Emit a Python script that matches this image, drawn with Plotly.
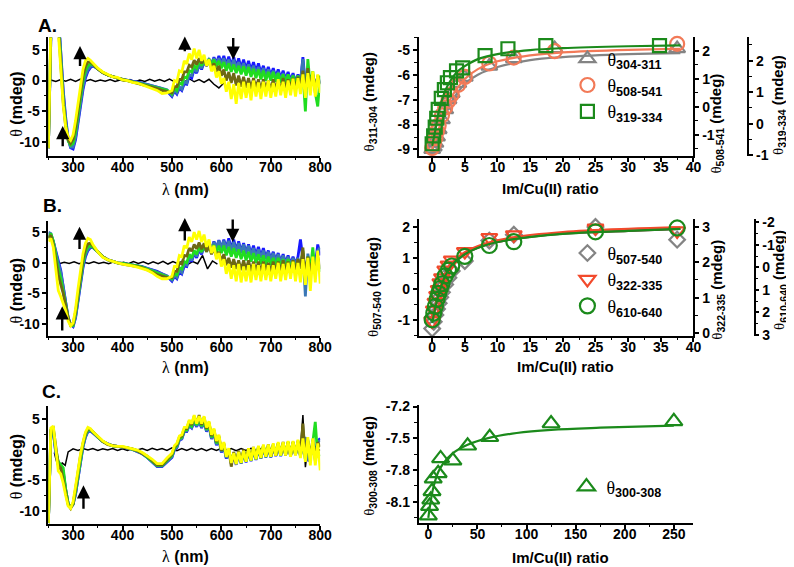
import plotly.graph_objects as go

# ---------------- DATA ----------------
WL = [250, 255, 260, 265, 270, 275, 280, 285, 290, 295,
      300, 305, 310, 315, 320, 325, 330, 335, 340,
      350, 360, 370, 380, 390, 400, 410, 420, 430, 440, 450, 460, 470, 480, 490,
      500, 505, 510, 515, 520, 525, 530, 535, 540, 545,
      550, 555, 560, 565, 570, 575, 580, 585, 590, 595,
      600, 605, 610, 615, 620, 625, 630, 635, 640, 645,
      650, 655, 660, 665, 670, 675, 680, 685, 690, 695,
      700, 705, 710, 715, 720, 725, 730, 735, 740, 745,
      750, 755, 760, 765, 770, 775, 780, 785, 790, 795,
      800]

# ---- Panel A spectra (mdeg) ----
A_BLUE = [-11, 7, 13, 14, 11, 4.5, -1.5, -6, -9.4, -10.9,
          -11.1, -9.6, -7.0, -4.0, -1.5, 0.4, 1.5, 2.1, 2.4,
          1.9, 1.3, 0.9, 0.6, 0.4, 0.2, 0.0, -0.1, -0.2, -0.4, -0.6, -0.8, -1.0, -1.3, -1.7,
          -2.6, -1.7, -2.2, -1.2, -1.6, -0.5, -0.6, 0.8, 0.4, 1.8,
          1.2, 2.6, 1.8, 3.0, 2.4, 3.5, 2.6, 3.8, 2.8, 4.0,
          2.8, 4.0, 2.6, 3.9, 2.4, 3.8, 2.2, 3.6, 2.0, 3.4,
          1.8, 3.2, 1.6, 3.0, 1.4, 2.8, 1.2, 2.4, 1.0, 2.2,
          0.8, 2.0, 0.6, 1.8, 0.4, 1.6, 0.2, 1.4, 0.0, 1.2,
          -0.2, 1.0, -0.3, 3.8, -0.8, 0.8, -0.6, 0.8, -0.8, 0.6,
          -0.4]
A_STEEL = [-11, 7, 13, 14, 11, 4, -2, -6.5, -9.6, -10.8,
           -10.8, -9.2, -6.5, -3.5, -1.0, 0.8, 1.8, 2.3, 2.5,
           1.9, 1.3, 0.9, 0.6, 0.4, 0.2, 0.0, -0.1, -0.3, -0.4, -0.6, -0.8, -1.0, -1.2, -1.5,
           -2.4, -1.5, -2.0, -1.0, -1.4, -0.2, -0.4, 1.0, 0.8, 2.0,
           1.4, 2.6, 2.0, 3.0, 2.6, 3.4, 2.8, 3.6, 2.8, 3.6,
           2.6, 3.6, 2.4, 3.4, 2.2, 3.4, 2.0, 3.0, 1.8, 2.8,
           1.6, 2.6, 1.4, 2.4, 1.2, 2.2, 1.0, 2.0, 0.8, 1.8,
           0.6, 1.6, 0.4, 1.4, 0.2, 1.2, 0.0, 1.0, -0.2, 0.9,
           -0.3, 0.8, -0.4, 3.5, -1.2, 0.6, -0.8, 0.6, -1.0, 0.4,
           -0.6]
A_GREEN = [-11, 8, 14, 14, 10, 3, -3, -7, -9.8, -10.5,
           -10.2, -8.3, -5.5, -2.5, 0.0, 1.6, 2.4, 2.7, 2.6,
           1.9, 1.3, 0.9, 0.6, 0.4, 0.2, 0.0, -0.2, -0.3, -0.5, -0.7, -0.9, -1.1, -1.3, -1.6,
           -2.2, -1.2, -1.6, -0.4, -0.6, 0.6, 0.4, 1.6, 1.4, 2.4,
           2.0, 3.2, 2.4, 3.4, 2.6, 3.5, 2.5, 3.4, 2.3, 3.2,
           2.0, 3.0, 1.6, 2.8, 1.4, 2.6, 1.2, 2.4, 1.0, 2.3,
           0.8, 2.2, 0.6, 1.9, 0.4, 1.8, 0.2, 1.6, 0.0, 1.4,
           0.0, 1.4, -0.2, 1.2, -0.4, 1.0, -0.4, 1.0, -0.6, 0.8,
           -0.6, 0.8, -0.8, 1.2, -5.0, 3.5, -1.0, 1.5, -2.0, -4.2,
           0.8]
A_OLIVE = [-11, 8, 14, 14, 9, 2, -3.5, -7.5, -9.6, -10.2,
           -9.5, -7.5, -4.5, -1.5, 0.8, 2.3, 3.0, 3.0, 2.7,
           1.9, 1.3, 0.9, 0.6, 0.4, 0.2, 0.0, -0.2, -0.4, -0.6, -0.8, -1.0, -1.3, -1.6, -1.8,
           -2.0, -1.0, -1.0, 0.2, 0.2, 1.4, 1.4, 2.5, 2.2, 3.3,
           2.6, 3.6, 2.8, 3.6, 2.4, 3.2, 2.0, 2.8, 1.4, 2.4,
           0.8, 1.8, 0.0, 1.4, -0.4, 1.2, -0.8, 0.8, -1.0, 0.6,
           -1.2, 0.4, -1.4, 0.4, -1.2, 0.2, -1.6, 0.2, -1.4, 0.0,
           -1.6, 0.2, -1.4, 0.0, -1.6, 0.4, -1.4, 0.2, -1.2, 0.4,
           -1.4, 0.6, -1.0, 1.6, -2.0, 2.0, -1.2, 1.0, -1.6, 0.8,
           -0.6]
A_YELLOW = [-11, 9, 14, 14, 8, 1, -4, -7.5, -9.2, -9.7,
            -8.8, -6.5, -3.5, -0.5, 1.8, 3.2, 3.6, 3.3, 2.9,
            2.0, 1.4, 1.0, 0.6, 0.5, 0.1, 0.0, -0.3, -0.4, -0.7, -1.0, -1.2, -1.6, -2.1, -2.0,
            -1.6, 0.0, -0.2, 1.6, 1.4, 3.2, 2.7, 4.4, 3.4, 5.2,
            3.6, 5.0, 3.2, 4.2, 2.4, 3.4, 1.5, 2.4, 0.5, 1.5,
            -0.5, 0.4, -1.8, -0.2, -3.0, -0.6, -3.8, -0.4, -3.0, -0.2,
            -2.8, -0.4, -3.2, 0.0, -2.6, -0.3, -3.0, -0.2, -2.6, 0.0,
            -2.8, -0.4, -2.6, 0.2, -2.4, -0.2, -2.8, 0.0, -2.4, 0.3,
            -2.6, 0.4, -2.2, 1.0, -2.8, 1.2, -2.4, 1.5, -2.6, 1.0,
            -2.0]
A_BLACK_WL = [255, 265, 275, 285, 295, 305, 315, 325, 335, 345, 355, 365,
              375, 385, 395, 405, 415, 425, 435, 445, 455, 465, 475, 485,
              495, 505, 515, 525, 535, 545, 555, 565, 575, 585, 595, 605]
A_BLACK = [0.1, -0.15, 0.15, -0.1, 0.2, -0.15, 0.25, -0.1, 0.15, -0.15, 0.1, -0.1,
           0.15, -0.15, 0.1, -0.1, 0.15, -0.2, 0.1, -0.15, 0.2, -0.1, 0.15, -0.15,
           0.25, -0.2, 0.15, -0.25, 0.3, -0.2, 0.15, -0.3, 0.2, -0.6, -1.2, -0.4]

# ---- Panel B spectra ----
B_BLUE = [4.5, 4.5, 3.5, 1.8, 0.3, -1.2, -3.8, -6.6, -8.9, -10.1,
          -10.4, -9.0, -6.3, -3.3, -0.8, 1.0, 2.0, 2.5, 2.5,
          1.8, 1.0, 0.5, 0.2, 0.0, -0.1, -0.2, -0.3, -0.5, -0.6, -0.9, -1.1, -1.4, -1.8, -2.2,
          -3.0, -2.2, -2.6, -1.4, -1.8, -0.5, -0.6, 0.8, 0.2, 1.6,
          0.8, 2.2, 1.4, 2.8, 1.9, 3.2, 2.2, 3.5, 2.4, 3.7,
          2.4, 3.8, 2.4, 4.0, 2.2, 3.8, 2.0, 3.5, 1.8, 3.2,
          1.6, 3.0, 1.4, 2.8, 1.2, 2.6, 1.0, 2.4, 0.8, 2.0,
          0.6, 1.8, 0.4, 1.6, 0.2, 1.4, 0.0, 1.2, -0.2, 1.0,
          -0.2, 1.0, 3.8, 0.6, -1.0, 0.8, -0.6, 0.6, -0.5, 3.0,
          1.2]
B_STEEL = [5, 4.8, 3.5, 1.5, 0, -1.5, -4, -6.8, -9.0, -10.1,
           -10.3, -8.8, -6.0, -3.0, -0.5, 1.3, 2.2, 2.6, 2.5,
           1.8, 1.0, 0.5, 0.2, 0.0, -0.1, -0.2, -0.3, -0.5, -0.7, -0.9, -1.2, -1.5, -1.8, -2.1,
           -2.8, -2.0, -2.4, -1.2, -1.6, -0.2, -0.4, 1.0, 0.4, 1.8,
           1.0, 2.4, 1.6, 2.8, 2.0, 3.2, 2.2, 3.4, 2.4, 3.6,
           2.4, 3.6, 2.2, 3.6, 2.0, 3.4, 1.8, 3.2, 1.6, 3.0,
           1.4, 2.8, 1.2, 2.4, 1.0, 2.2, 0.8, 2.0, 0.6, 1.8,
           0.4, 1.6, 0.2, 1.4, 0.0, 1.2, -0.2, 1.0, -0.4, 0.8,
           -0.4, 0.8, -0.6, 1.6, -5.5, 1.5, -0.8, 1.0, -1.0, 2.0,
           2.5]
B_GREEN = [4, 4.8, 3.5, 1.0, -1.0, -2.5, -4.5, -7.0, -9.0, -10.2,
           -10.2, -8.3, -5.5, -2.6, 0.0, 1.8, 2.6, 2.8, 2.6,
           1.8, 1.0, 0.5, 0.2, 0.0, -0.1, -0.2, -0.4, -0.5, -0.7, -1.0, -1.3, -1.6, -1.9, -2.2,
           -2.6, -1.8, -2.0, -0.8, -1.0, 0.2, 0.0, 1.4, 0.8, 2.0,
           1.4, 2.6, 1.8, 2.8, 1.8, 3.0, 1.8, 2.9, 1.6, 2.8,
           1.6, 2.8, 1.2, 2.6, 1.0, 2.4, 0.8, 2.2, 0.6, 2.0,
           0.4, 1.8, 0.2, 1.6, 0.0, 1.4, -0.2, 1.2, -0.4, 1.0,
           -0.4, 0.8, -0.6, 0.8, -0.6, 0.6, -0.8, 0.6, -0.8, 0.4,
           -0.8, 0.4, -0.8, 2.0, -2.8, 1.0, -1.2, 2.5, -1.5, 0.6,
           -1.5]
B_OLIVE = [4, 4.5, 3.0, 0.5, -2.0, -3.5, -5.0, -7.0, -9.0, -10.2,
           -10.0, -8.0, -5.0, -2.0, 0.6, 2.3, 3.1, 3.2, 2.8,
           1.8, 1.0, 0.5, 0.2, 0.0, -0.2, -0.3, -0.4, -0.6, -0.8, -1.1, -1.5, -1.9, -2.2, -2.4,
           -2.4, -1.4, -1.4, 0.0, -0.2, 1.2, 1.1, 2.4, 1.9, 3.0,
           2.3, 3.3, 2.2, 3.2, 1.8, 2.8, 1.4, 2.4, 1.0, 1.8,
           0.2, 1.4, -0.4, 0.8, -0.8, 0.6, -1.0, 0.4, -1.2, 0.4,
           -1.2, 0.4, -1.4, 0.2, -1.4, 0.2, -1.6, 0.2, -1.4, 0.0,
           -1.6, 0.2, -1.4, 0.2, -1.6, 0.4, -1.4, 0.2, -1.6, 0.4,
           -1.4, 0.6, -1.0, 2.5, -2.5, 1.0, -1.6, 0.6, -1.8, 1.0,
           -1.0]
B_YELLOW = [3.5, 4.0, 2.5, -1, -4.5, -5.5, -6.5, -7.8, -9.5, -10.3,
            -9.8, -7.5, -4.2, -1.0, 1.5, 3.2, 4.0, 3.8, 3.0,
            1.8, 0.9, 0.5, 0.2, 0.0, -0.2, -0.3, -0.5, -0.7, -0.9, -1.2, -1.6, -2.2, -2.6, -2.6,
            -2.2, -0.6, -0.6, 1.2, 1.0, 2.8, 2.4, 4.2, 3.4, 5.0,
            3.8, 5.2, 3.4, 4.6, 2.6, 3.8, 1.6, 2.8, 0.6, 1.6,
            -0.6, 0.6, -1.8, -0.2, -2.6, -0.4, -3.0, -0.2, -3.2, -0.6,
            -3.0, -0.4, -3.2, -0.2, -2.8, -0.4, -3.0, -0.2, -2.8, -0.4,
            -3.0, -0.4, -2.6, 0.0, -3.0, -0.2, -2.8, 0.0, -2.6, 0.2,
            -3.0, 0.0, -3.2, 0.6, -3.6, 0.8, -4.6, 1.0, -3.2, 2.0,
            -3.4]
B_BLACK_WL = [262, 272, 282, 292, 302, 312, 322, 332, 342, 352, 362, 372,
              382, 392, 402, 412, 422, 432, 442, 452, 462, 472, 482, 492,
              502, 512, 522, 532, 542, 552, 562, 572, 582, 592]
B_BLACK = [0.05, -0.15, 0.1, -0.1, 0.15, -0.15, 0.1, -0.1, 0.15, -0.1, 0.1, -0.15,
           0.15, -0.1, 0.1, -0.15, 0.2, -0.1, 0.15, -0.2, 0.15, -0.15, 0.25, -0.2,
           0.2, -0.15, 0.3, -0.25, 0.2, -0.15, 1.2, -1.0, 0.3, -0.2]

# ---- Panel C spectra ----
C_BLUE = [-12, 2.8, 2.8, -0.6, -2.2, -3.0, -3.8, -6.6, -8.8, -9.4,
          -8.9, -7.3, -4.8, -2.0, 0.4, 2.0, 2.9, 3.0, 2.7,
          2.0, 1.3, 0.9, 0.6, 0.5, 0.4, 0.2, 0.0, -0.3, -0.7, -1.3, -2.0, -2.8, -2.8, -2.1,
          -1.3, -0.1, 0.3, 1.5, 1.7, 2.9, 2.9, 3.9, 3.5, 4.5,
          3.7, 4.6, 3.5, 4.5, 2.9, 3.9, 1.7, 2.7, 0.7, 1.7,
          -0.5, 0.5, -1.5, -0.3, -2.3, -0.9, -2.5, -0.7, -2.3, -0.5,
          -2.1, -0.3, -1.9, -0.1, -1.7, 0.1, -1.5, 0.3, -1.3, 0.3,
          -1.3, 0.5, -1.1, 0.7, -1.1, 0.7, -0.9, 0.9, -1.1, 0.9,
          -0.9, 0.9, -1.1, 1.1, 1.6, -1.9, -1.2, 0.8, -0.8, 1.4,
          1.8]
C_STEEL = [-12, 3.0, 3.0, -0.5, -2.0, -2.8, -3.5, -6.5, -8.8, -9.5,
           -9.0, -7.2, -4.6, -1.8, 0.5, 2.1, 3.0, 3.1, 2.8,
           2.0, 1.3, 0.9, 0.6, 0.5, 0.4, 0.2, 0.0, -0.3, -0.7, -1.3, -2.0, -2.7, -2.7, -2.0,
           -1.2, 0.0, 0.4, 1.6, 1.8, 3.0, 3.0, 4.0, 3.6, 4.6,
           3.8, 4.7, 3.6, 4.6, 3.0, 4.0, 1.8, 2.8, 0.8, 1.8,
           -0.4, 0.6, -1.4, -0.2, -2.2, -0.8, -2.4, -0.6, -2.2, -0.4,
           -2.0, -0.2, -1.8, 0.0, -1.6, 0.2, -1.4, 0.4, -1.2, 0.4,
           -1.2, 0.6, -1.0, 0.8, -1.0, 0.8, -0.8, 1.0, -1.0, 1.0,
           -0.8, 1.0, -1.0, 1.2, 2.0, -1.8, -1.2, 1.0, -0.8, 1.2,
           1.5]
C_GREEN = [-12, 3.0, 3.2, 0.0, -2.0, -2.6, -3.0, -6.5, -8.8, -9.4,
           -8.9, -6.8, -4.0, -1.4, 0.8, 2.4, 3.2, 3.2, 2.8,
           2.1, 1.3, 0.9, 0.6, 0.5, 0.4, 0.3, 0.0, -0.2, -0.6, -1.2, -1.9, -2.6, -2.6, -1.8,
           -1.0, 0.2, 0.6, 1.8, 2.0, 3.2, 3.2, 4.2, 3.8, 4.9,
           4.0, 5.0, 3.8, 4.8, 3.2, 4.2, 2.0, 3.0, 1.0, 2.0,
           -0.2, 0.8, -1.2, 0.0, -2.0, -0.6, -2.2, -0.4, -2.2, -0.2,
           -2.0, 0.0, -1.8, 0.2, -1.6, 0.4, -1.4, 0.6, -1.2, 0.6,
           -1.2, 0.8, -1.0, 1.0, -1.0, 1.0, -0.8, 1.2, -1.0, 1.2,
           -0.8, 1.2, -1.0, 1.4, -1.6, 1.6, -1.4, 1.2, 4.5, -1.2,
           -0.8]
C_OLIVE = [-12, 3.2, 3.5, 0.2, -2.5, -3.0, -5.0, -7.3, -9.0, -9.6,
           -8.8, -6.4, -3.6, -1.0, 1.0, 2.6, 3.4, 3.3, 2.9,
           2.1, 1.3, 0.8, 0.6, 0.5, 0.4, 0.3, 0.1, -0.2, -0.6, -1.1, -1.8, -2.5, -2.5, -1.6,
           -0.8, 0.4, 0.8, 2.0, 2.2, 3.4, 3.4, 4.6, 4.0, 5.4,
           4.2, 5.6, 4.0, 5.2, 3.4, 4.4, 2.2, 3.2, 1.2, 2.2,
           -0.2, 1.0, -1.2, 0.0, -2.8, -0.4, -2.0, -0.2, -2.0, 0.0,
           -1.8, 0.2, -1.6, 0.4, -1.4, 0.4, -1.2, 0.6, -1.0, 0.8,
           -1.2, 0.8, -1.0, 1.0, -0.8, 1.2, -1.0, 1.2, -1.0, 1.2,
           -0.8, 1.4, -0.6, 4.2, -1.6, 1.4, -1.2, 1.6, -1.8, 1.2,
           0.4]
C_YELLOW = [-12, 3.5, 3.8, 0.5, -3.5, -4.0, -5.5, -7.5, -9.2, -9.6,
            -8.5, -6.0, -3.2, -0.8, 1.2, 2.8, 3.6, 3.4, 2.9,
            2.2, 1.4, 0.9, 0.6, 0.5, 0.5, 0.3, 0.1, -0.1, -0.5, -1.0, -1.6, -2.3, -2.3, -1.4,
            -0.6, 0.6, 1.0, 2.2, 2.4, 3.6, 3.6, 4.8, 4.2, 5.6,
            4.2, 5.4, 4.2, 5.4, 3.6, 4.6, 2.4, 3.4, 1.4, 2.4,
            0.0, 1.2, -1.2, 0.2, -2.2, -0.6, -2.4, -0.4, -2.2, -0.2,
            -2.0, 0.2, -1.8, 0.4, -1.6, 0.6, -1.4, 0.8, -1.2, 0.8,
            -1.2, 1.0, -1.0, 1.2, -1.0, 1.2, -1.0, 1.4, -1.2, 1.4,
            -1.0, 1.6, -1.4, 1.8, -2.0, 2.0, -2.6, 1.8, -2.6, 1.0,
            -3.4]
C_BLACK_WL = [262, 266, 272, 278, 284, 290,
              300, 310, 320, 330, 340, 350, 360, 370, 380, 390, 400, 410,
              420, 430, 440, 450, 460, 470, 480, 490, 500, 510, 520, 530,
              540, 550, 560, 570, 580, 590, 600, 610, 620, 630, 640, 650,
              660, 670, 680, 690, 700, 710, 720, 730, 740, 750, 760,
              765, 770, 775, 780, 790, 800]
C_BLACK = [-0.5, -1.8, -3.2, -2.2, -2.6, -0.4,
           0.1, -0.15, 0.15, -0.1, 0.15, -0.15, 0.1, -0.1, 0.15, -0.15, 0.1, -0.15,
           0.15, -0.1, 0.15, -0.15, 0.2, -0.1, 0.15, -0.15, 0.25, -0.2, 0.15, -0.15,
           0.2, -0.15, 0.15, -0.2, 0.15, -0.15, 0.2, -0.15, 0.15, -0.2, 0.15, -0.15,
           0.2, -0.15, 0.15, -0.2, 0.15, -0.15, 0.2, -0.15, 0.15, -0.2, 0.1,
           5.6, -2.9, 0.5, -0.3, 0.4, -0.2]

# ---- Titration A (Im/Cu(II) ratio) ----
A_X = [0, 0.25, 0.5, 0.75, 1, 1.5, 2, 2.5, 3, 4, 5, 8.75, 12.5, 18.75, 37.5]
A_TRI = [-9.0, -8.9, -8.75, -8.5, -8.2, -7.8, -7.4, -7.0, -6.75, -6.35, -6.1, -5.65, -5.35, -4.95, -4.95]
A_CIR = [-1.48, -1.33, -1.12, -0.88, -0.67, -0.31, -0.03, 0.21, 0.43, 0.78, 1.06, 1.54, 1.75, 1.98, 2.24]
A_X_SQ = [0, 0.23, 0.47, 0.7, 0.93, 1.4, 1.87, 2.33, 2.8, 3.73, 4.67, 8.1, 11.6, 17.4, 34.8]
A_SQ = [-0.64, -0.39, -0.11, 0.17, 0.45, 0.80, 1.08, 1.30, 1.46, 1.68, 1.77, 2.16, 2.38, 2.48, 2.48]
A_FIT_X = [0, 0.5, 1, 2, 3, 4, 5, 7, 10, 15, 20, 30, 38]
A_FIT_GRAY = [-9.01, -8.73, -8.34, -7.63, -7.07, -6.68, -6.36, -6.0, -5.69, -5.41, -5.29, -5.17, -5.13]
A_FIT_ORANGE = [-1.51, -1.19, -0.81, -0.14, 0.36, 0.71, 0.99, 1.34, 1.62, 1.83, 1.94, 2.03, 2.06]
A_FIT_GREEN = [-0.71, -0.2, 0.36, 1.05, 1.43, 1.68, 1.83, 2.05, 2.21, 2.34, 2.40, 2.46, 2.49]

# ---- Titration B ----
B_X = [0, 0.25, 0.5, 0.75, 1, 1.25, 1.5, 2, 2.5, 3, 5, 8.75, 12.5, 25, 37.5]
B_DIA = [-1.29, -1.07, -0.85, -0.66, -0.47, -0.28, -0.12, 0.13, 0.35, 0.57, 0.89, 1.55, 1.74, 1.99, 1.58]
B_TRI = [0.35, 0.65, 0.87, 1.06, 1.23, 1.42, 1.56, 1.78, 1.92, 2.06, 2.30, 2.69, 2.77, 2.96, 2.88]
B_CIR = [2.33, 2.03, 1.73, 1.42, 1.16, 0.94, 0.73, 0.38, 0.12, -0.06, -0.49, -0.97, -1.14, -1.58, -1.75]
B_FIT_X = [0, 0.5, 1, 2, 3, 5, 8, 12, 20, 30, 38]
B_FIT_LEFT = [-1.10, -0.6, -0.19, 0.41, 0.76, 1.11, 1.39, 1.58, 1.77, 1.86, 1.93]
B_FIT_RED = [0.35, 0.79, 1.15, 1.67, 1.97, 2.28, 2.52, 2.69, 2.85, 2.94, 2.98]
B_FIT_GREEN = [2.47, 1.77, 1.20, 0.38, -0.1, -0.58, -0.97, -1.23, -1.49, -1.62, -1.71]

# ---- Titration C ----
C_X = [0, 1.25, 2.5, 3.75, 5, 10, 12.5, 25, 40, 62.5, 125, 250]
C_TRI = [-8.23, -8.14, -8.08, -8.0, -7.88, -7.83, -7.69, -7.71, -7.57, -7.49, -7.36, -7.34]
C_FIT_X = [0, 2, 5, 10, 15, 25, 40, 60, 90, 125, 175, 250]
C_FIT_Y = [-8.25, -8.12, -7.97, -7.82, -7.74, -7.64, -7.56, -7.5, -7.45, -7.42, -7.4, -7.38]

# ---- Tick labels ----
SPEC_XT = [300, 400, 500, 600, 700, 800]
SPEC_YT = [-10, -5, 0, 5]
RAT_XT = [0, 5, 10, 15, 20, 25, 30, 35, 40]
A_YT = [-9, -8, -7, -6, -5]
A_R1T = [-1, 0, 1, 2]
A_R2T = [-1, 0, 1, 2]
B_YT = [-1, 0, 1, 2]
B_R1T = [0, 1, 2, 3]
B_R2T = [-2, -1, 0, 1, 2, 3]
C_XT = [0, 50, 100, 150, 200, 250]
C_YT = [-8.1, -7.8, -7.5, -7.2]

# ---- Arrows: (wavelength, tail, head) ----
ARROWS_A = [(279, -10.9, -7.4), (314, 2.1, 5.6), (526, 4.5, 7.15), (624, 7.15, 3.4)]
ARROWS_B = [(278, -11.3, -7.1), (313, 2.0, 5.9), (526, 3.4, 7.3), (623, 7.3, 3.4)]
ARROWS_C = [(321, -9.9, -5.85)]

for s in [A_BLUE, A_STEEL, A_GREEN, A_OLIVE, A_YELLOW, B_BLUE, B_STEEL, B_GREEN,
          B_OLIVE, B_YELLOW, C_BLUE, C_STEEL, C_GREEN, C_OLIVE, C_YELLOW]:
    assert len(s) == len(WL), (len(s), len(WL))
assert len(A_BLACK) == len(A_BLACK_WL)
assert len(B_BLACK) == len(B_BLACK_WL)
assert len(C_BLACK) == len(C_BLACK_WL)

# ---------------- STYLE / LAYOUT ----------------
W, H = 794, 567
def fx(p): return p / W
def fy(p): return 1 - p / H

FONT = "Liberation Sans, Arial, sans-serif"
SERIF = "Liberation Serif"
TICKFONT = dict(family=FONT, size=14, color="black", weight="bold")
SPEC_COL = {"blue": "#1818ff", "steel": "#3b78b6", "green": "#20dd20",
            "olive": "#6e6814", "yellow": "#ffff00"}
GRAY = "#848484"
ORANGE = "#f27a58"
RED = "#f24a2c"
DKGREEN = "#1b8a1b"
MAROON = "#7a2036"

fig = go.Figure()

def spectra(xa, ya, bx, by, series):
    fig.add_trace(go.Scatter(x=bx, y=by, mode="lines", line=dict(color="black", width=1.5),
                             xaxis=xa, yaxis=ya, showlegend=False, hoverinfo="skip"))
    for key, vals in series:
        fig.add_trace(go.Scatter(x=WL, y=vals, mode="lines",
                                 line=dict(color=SPEC_COL[key], width=2.8),
                                 xaxis=xa, yaxis=ya, showlegend=False, hoverinfo="skip"))

spectra("x", "y", A_BLACK_WL, A_BLACK, [("blue", A_BLUE), ("steel", A_STEEL), ("green", A_GREEN),
                                        ("olive", A_OLIVE), ("yellow", A_YELLOW)])
spectra("x3", "y3", B_BLACK_WL, B_BLACK, [("blue", B_BLUE), ("steel", B_STEEL), ("green", B_GREEN),
                                          ("olive", B_OLIVE), ("yellow", B_YELLOW)])
spectra("x5", "y5", C_BLACK_WL, C_BLACK, [("blue", C_BLUE), ("steel", C_STEEL), ("green", C_GREEN),
                                          ("olive", C_OLIVE), ("yellow", C_YELLOW)])

def th(sub):
    return f'<span style="font-family:{SERIF}">θ</span><sub><b>{sub}</b></sub>'

def fit(x, y, xa, ya, color):
    fig.add_trace(go.Scatter(x=x, y=y, mode="lines", line=dict(color=color, width=2.2, shape="spline"),
                             xaxis=xa, yaxis=ya, showlegend=False, hoverinfo="skip"))

def pts(x, y, xa, ya, color, symbol, size, name, legend):
    fig.add_trace(go.Scatter(x=x, y=y, mode="markers", name=name, legend=legend,
                             marker=dict(symbol=symbol, size=size, color=color,
                                         line=dict(color=color, width=2.2)),
                             xaxis=xa, yaxis=ya, cliponaxis=False))

# A right
fit(A_FIT_X, A_FIT_GRAY, "x2", "y2", GRAY)
fit(A_FIT_X, A_FIT_ORANGE, "x2", "y7", ORANGE)
fit(A_FIT_X, A_FIT_GREEN, "x2", "y8", DKGREEN)
pts(A_X, A_TRI, "x2", "y2", GRAY, "triangle-up-open", 14, th("304-311"), "legend")
pts(A_X, A_CIR, "x2", "y7", ORANGE, "circle-open", 14, th("508-541"), "legend")
pts(A_X_SQ, A_SQ, "x2", "y8", DKGREEN, "square-open", 13, th("319-334"), "legend")

# B right
fit(B_FIT_X, B_FIT_RED, "x4", "y9", RED)
fit(B_FIT_X, B_FIT_LEFT, "x4", "y4", MAROON)
fit(B_FIT_X, B_FIT_GREEN, "x4", "y10", DKGREEN)
pts(B_X, B_DIA, "x4", "y4", GRAY, "diamond-open", 12, th("507-540"), "legend2")
pts(B_X, B_TRI, "x4", "y9", RED, "triangle-down-open", 14, th("322-335"), "legend2")
pts(B_X, B_CIR, "x4", "y10", DKGREEN, "circle-open", 15, th("610-640"), "legend2")

# C right
fit(C_FIT_X, C_FIT_Y, "x6", "y6", DKGREEN)
pts(C_X, C_TRI, "x6", "y6", DKGREEN, "triangle-up-open", 15, th("300-308"), "legend3")


def ax(**kw):
    d = dict(showline=True, linecolor="black", linewidth=1.8, ticks="outside", ticklen=4,
             tickwidth=1.6, tickcolor="black", tickfont=TICKFONT, showgrid=False,
             zeroline=False, tickmode="array", fixedrange=True)
    d.update(kw)
    return d

def xax(**kw):
    return ax(ticklabelstandoff=-6, **kw)

def tk(vals):
    return [str(v) for v in vals]

def minor(dt, t0=0):
    return dict(ticks="outside", ticklen=2.5, tickwidth=1.3, tickcolor="black",
                tickmode="linear", tick0=t0, dtick=dt, showgrid=False)

LX = [fx(41), fx(317)]
RX = [fx(417), fx(696)]
DA = [fy(145), fy(24)]
DB_L = [fy(329.3), fy(211.7)]
DB_R = [fy(329.3), fy(210)]
DC_L = [fy(521.7), fy(401.7)]
DC_R = [fy(520.7), fy(400)]

layout = dict(
    width=W, height=H, margin=dict(l=0, r=0, t=0, b=0), autosize=False,
    paper_bgcolor="white", plot_bgcolor="rgba(0,0,0,0)",
    font=dict(family=FONT, color="black"),
    xaxis=xax(domain=LX, anchor="y", range=[250, 800], tickvals=SPEC_XT, ticktext=tk(SPEC_XT), minor=minor(50)),
    yaxis=ax(domain=DA, anchor="x", range=[-12.2, 7.0], tickvals=SPEC_YT, ticktext=tk(SPEC_YT), minor=minor(2.5)),
    xaxis3=xax(domain=LX, anchor="y3", range=[250, 800], tickvals=SPEC_XT, ticktext=tk(SPEC_XT), minor=minor(50)),
    yaxis3=ax(domain=DB_L, anchor="x3", range=[-11.9, 6.85], tickvals=SPEC_YT, ticktext=tk(SPEC_YT), minor=minor(2.5)),
    xaxis5=xax(domain=LX, anchor="y5", range=[250, 800], tickvals=SPEC_XT, ticktext=tk(SPEC_XT), minor=minor(50)),
    yaxis5=ax(domain=DC_L, anchor="x5", range=[-12.1, 7.0], tickvals=SPEC_YT, ticktext=tk(SPEC_YT), minor=minor(2.5)),

    xaxis2=xax(domain=RX, anchor="y2", range=[-2.06, 40], tickvals=RAT_XT, ticktext=tk(RAT_XT), minor=minor(2.5)),
    yaxis2=ax(domain=DA, anchor="x2", range=[-9.25, -4.5], tickvals=A_YT, ticktext=tk(A_YT), minor=minor(0.5)),
    yaxis7=ax(overlaying="y2", side="right", anchor="x2", range=[-1.75, 2.47], tickvals=A_R1T,
              ticktext=tk(A_R1T), minor=minor(0.5)),
    yaxis8=ax(overlaying="y2", side="right", anchor="free", position=fx(751.7), range=[-1.02, 2.74],
              tickvals=A_R2T, ticktext=tk(A_R2T), minor=minor(0.5)),

    xaxis4=xax(domain=RX, anchor="y4", range=[-2.06, 40], tickvals=RAT_XT, ticktext=tk(RAT_XT), minor=minor(2.5)),
    yaxis4=ax(domain=DB_R, anchor="x4", range=[-1.52, 2.24], tickvals=B_YT, ticktext=tk(B_YT), minor=minor(0.5)),
    yaxis9=ax(overlaying="y4", side="right", anchor="x4", range=[-0.07, 3.21], tickvals=B_R1T,
              ticktext=tk(B_R1T), minor=minor(0.5)),
    yaxis10=ax(overlaying="y4", side="right", anchor="free", position=fx(758), range=[3.04, -2.14],
               tickvals=B_R2T, ticktext=tk(B_R2T), minor=minor(0.5)),

    xaxis6=xax(domain=RX, anchor="y6", range=[-9.8, 270], tickvals=C_XT, ticktext=tk(C_XT), minor=minor(25)),
    yaxis6=ax(domain=DC_R, anchor="x6", range=[-8.297, -7.184], tickvals=C_YT, ticktext=tk(C_YT),
              minor=minor(0.15, -8.1)),
    showlegend=True,
)
LEG = dict(bgcolor="rgba(0,0,0,0)", borderwidth=0, xanchor="left", yanchor="top",
           font=dict(family=FONT, size=18, color="black"), tracegroupgap=0, itemclick=False)
layout["legend"] = dict(LEG, x=fx(568), y=fy(27))
layout["legend2"] = dict(LEG, x=fx(568), y=fy(226))
layout["legend3"] = dict(LEG, x=fx(567), y=fy(465))
fig.update_layout(**layout)

ann = []
def text(x, y, s, size=15, angle=0):
    ann.append(dict(x=fx(x), y=fy(y), xref="paper", yref="paper", text=s, showarrow=False,
                    textangle=angle, xanchor="center", yanchor="middle",
                    font=dict(family=FONT, size=size, color="black", weight="bold")))

TH = f'<span style="font-family:{SERIF};font-weight:normal">θ</span>'
LAM = f'<span style="font-family:{SERIF};font-weight:normal">λ</span>'
# panel letters
text(40, 12, "A.", 19)
text(45, 196, "B.", 19)
text(44, 386, "C.", 19)
# spectra titles
for yc in (92, 283, 463):
    text(9, yc, TH + " (mdeg)", 16, -90)
for yc in (180, 362, 555):
    text(180, yc, LAM + " (nm)", 16)
# ratio x titles
text(551, 179, "Im/Cu(II) ratio", 15)
text(566, 361, "Im/Cu(II) ratio", 15)
text(561, 556, "Im/Cu(II) ratio", 15)
# ratio y titles
text(367, 90, TH + "<sub>311-304</sub> (mdeg)", 15, -90)
text(719, 112, TH + "<sub>508-541</sub> (mdeg)", 15, -90)
text(783, 93, TH + "<sub>319-334</sub> (mdeg)", 15, -90)
text(371, 279, TH + "<sub>507-540</sub> (mdeg)", 15, -90)
text(720, 282, TH + "<sub>322-335</sub> (mdeg)", 15, -90)
text(784, 272, TH + "<sub>610-640</sub> (mdeg)", 15, -90)
text(367, 462, TH + "<sub>300-308</sub> (mdeg)", 15, -90)

def arrows(lst, xr, yr):
    for lam, tail, head in lst:
        ann.append(dict(x=lam, y=head, ax=lam, ay=tail, xref=xr, yref=yr, axref=xr, ayref=yr,
                        showarrow=True, arrowhead=2, arrowsize=1.1, arrowwidth=2.4,
                        arrowcolor="black", text=""))
arrows(ARROWS_A, "x", "y")
arrows(ARROWS_B, "x3", "y3")
arrows(ARROWS_C, "x5", "y5")

fig.update_layout(annotations=ann)
fig.write_html("out.html")
